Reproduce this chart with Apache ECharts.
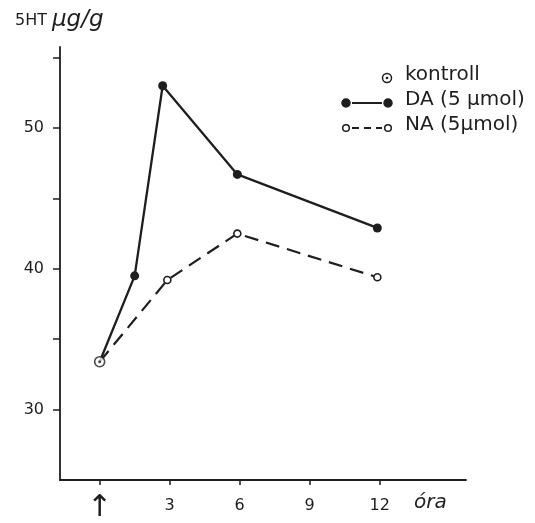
<!DOCTYPE html>
<html>
<head>
<meta charset="utf-8">
<script src="https://cdn.jsdelivr.net/npm/echarts@6/dist/echarts.min.js"></script>
<style>
  html, body { margin: 0; padding: 0; background: #fff; }
  #chart { width: 535px; height: 523px; }
</style>
</head>
<body>
<div id="chart"></div>
<script>
/* ---------- data ---------- */
const xTicks = [0, 3, 6, 9, 12];
const xTickLabels = ["↑", "3", "6", "9", "12"];
const yTicks = [30, 35, 40, 45, 50, 55];
const yLabels = [30, 40, 50];

const kontroll = [[0, 33.4]];
const daHours = [0, 1.5, 2.7, 5.9, 11.9];
const daValues = [33.4, 39.5, 53.0, 46.7, 42.9];
const naHours = [0, 2.9, 5.9, 11.9];
const naValues = [33.4, 39.2, 42.5, 39.4];

const legendNames = ["kontroll", "DA (5 µmol)", "NA (5µmol)"];

/* ---------- helpers ---------- */
const ink = "#1e1e1e";
const font = "DejaVu Sans";

// first point sits under the kontroll marker, so no symbol there
function toLine(xs, ys) {
  return xs.map((x, i) => (i === 0 ? { value: [x, ys[i]], symbol: "none" } : [x, ys[i]]));
}

/* ---------- legend drawn by hand (●—● style) ---------- */
const legendRows = [
  { y: 78, kind: "kontroll" },
  { y: 103, kind: "da" },
  { y: 128, kind: "na" },
];
const legendGraphic = [];
legendRows.forEach((row, i) => {
  if (row.kind === "kontroll") {
    legendGraphic.push({ type: "circle", shape: { cx: 387, cy: row.y, r: 4.5 }, style: { fill: "#fff", stroke: ink, lineWidth: 1.5 } });
    legendGraphic.push({ type: "circle", shape: { cx: 387, cy: row.y, r: 1.3 }, style: { fill: ink } });
  } else {
    const filled = row.kind === "da";
    legendGraphic.push({
      type: "line",
      shape: { x1: 352, y1: row.y, x2: 382, y2: row.y },
      style: { stroke: ink, lineWidth: 2, lineDash: filled ? null : [7, 5] },
    });
    [346, 388].forEach((cx) => {
      legendGraphic.push({
        type: "circle",
        shape: { cx: cx, cy: row.y, r: filled ? 4 : 3.3 },
        style: { fill: filled ? ink : "#fff", stroke: ink, lineWidth: 1.5 },
      });
    });
  }
  legendGraphic.push({
    type: "text",
    left: 405,
    top: row.y - 13,
    style: { text: legendNames[i], font: "20px " + font, fill: ink },
  });
});

/* ---------- chart ---------- */
const chart = echarts.init(document.getElementById("chart"));

chart.setOption({
  backgroundColor: "#fff",
  animation: false,
  title: {
    text: "{a|5HT} {b|µg/g}",
    left: 10,
    top: 4,
    textStyle: {
      fontWeight: "normal",
      rich: {
        a: { fontFamily: font, fontSize: 16, fontWeight: "normal", color: ink },
        b: { fontFamily: font, fontSize: 23, fontStyle: "italic", fontWeight: "normal", color: ink },
      },
    },
  },
  grid: { left: 60, right: 69, top: 47, bottom: 43, containLabel: false, outerBoundsMode: "none" },
  xAxis: {
    type: "value",
    min: -1.7,
    max: 15.7,
    splitLine: { show: false },
    axisLine: { lineStyle: { color: ink, width: 1.8 } },
    axisTick: { customValues: xTicks, length: 5, lineStyle: { color: ink, width: 1.5 } },
    axisLabel: {
      customValues: xTicks,
      margin: 18,
      fontFamily: font,
      fontSize: 16,
      color: ink,
      formatter: (v) => {
        const t = xTickLabels[xTicks.indexOf(v)] ?? "";
        return t === "↑" ? "{arr|↑}" : t;
      },
      rich: {
        arr: { fontFamily: font, fontSize: 30, lineHeight: 20, color: ink },
      },
    },
  },
  yAxis: {
    type: "value",
    min: 25,
    max: 55.75,
    splitLine: { show: false },
    axisLine: { show: true, onZero: false, lineStyle: { color: ink, width: 1.8 } },
    axisTick: { show: true, customValues: yTicks, length: 7, lineStyle: { color: ink, width: 1.5 } },
    axisLabel: {
      customValues: yLabels,
      margin: 16,
      fontFamily: font,
      fontSize: 16,
      color: ink,
    },
  },
  graphic: [
    ...legendGraphic,
    { type: "text", left: 414, top: 493, style: { text: "óra", font: "italic 20px " + font, fill: ink } },
  ],
  series: [
    {
      name: "DA (5 µmol)",
      type: "line",
      data: toLine(daHours, daValues),
      symbol: "circle",
      symbolSize: 9,
      itemStyle: { color: ink },
      lineStyle: { color: ink, width: 2.3 },
      z: 3,
    },
    {
      name: "NA (5µmol)",
      type: "line",
      data: toLine(naHours, naValues),
      symbol: "circle",
      symbolSize: 7,
      itemStyle: { color: "#fff", borderColor: ink, borderWidth: 1.6 },
      lineStyle: { color: ink, width: 2.2, type: [14, 8] },
      z: 3,
    },
    {
      name: "kontroll",
      type: "scatter",
      data: kontroll,
      symbol: "circle",
      symbolSize: 10,
      itemStyle: { color: "#fff", borderColor: ink, borderWidth: 1.6 },
      z: 4,
    },
    {
      name: "kontroll dot",
      type: "scatter",
      data: kontroll,
      symbol: "circle",
      symbolSize: 3,
      itemStyle: { color: ink },
      z: 5,
    },
  ],
});
</script>
</body>
</html>
